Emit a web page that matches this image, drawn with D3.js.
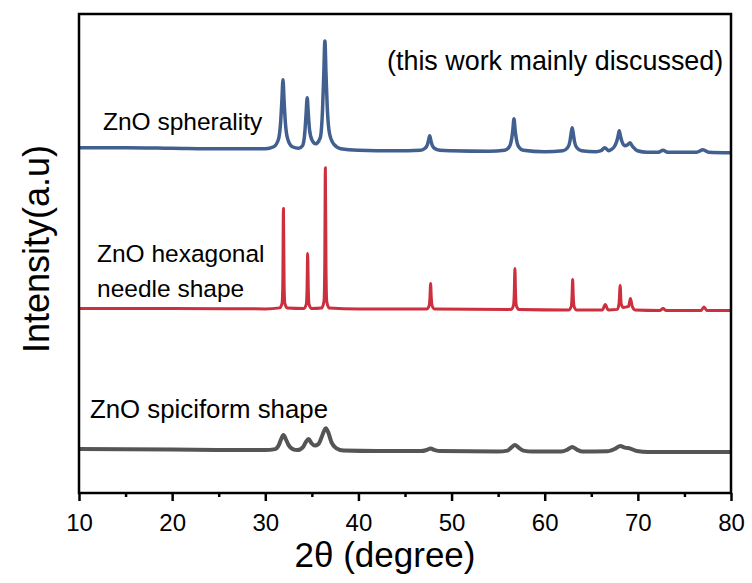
<!DOCTYPE html>
<html>
<head>
<meta charset="utf-8">
<script src="https://cdn.jsdelivr.net/npm/d3@7/dist/d3.min.js"></script>
<style>
  html, body { margin: 0; padding: 0; background: #fff; }
  svg text { font-family: "Liberation Sans", Arial, sans-serif; fill: #000; }
</style>
</head>
<body>
<svg id="chart" width="752" height="583"></svg>
<script>
// ---- data (2θ, intensity a.u. as plotted with offsets) ----
const xTicks = [10, 20, 30, 40, 50, 60, 70, 80];
const xMinorTicks = [15, 25, 35, 45, 55, 65, 75];

const spherality = [
  [10,346],[15,346],[20,345.5],[25,345],[28,345],[30,345],[30.9,347],[31.4,354],[31.65,372],[31.78,393],[31.9,414],
  [32.02,393],[32.15,372],[32.4,355],[32.9,347],[33.6,345.5],[34.0,348],[34.25,362],[34.38,380],[34.5,396],[34.62,380],
  [34.75,364],[35.0,354],[35.4,350],[35.9,356],[36.15,385],[36.28,420],[36.4,453],[36.52,420],[36.65,387],[36.9,360],
  [37.4,349],[38.1,345],[40,343.5],[44,343],[46.65,343.5],[47.15,345.5],[47.4,349],[47.53,353.5],[47.65,358],[47.77,353.5],
  [47.9,349],[48.15,345.5],[48.75,343.5],[50,343],[54,342.5],[55.7,343.5],[56.2,347],[56.45,355],[56.58,364],[56.7,375],
  [56.82,364],[56.95,355],[57.2,347],[57.7,343.5],[60,342],[61.95,343],[62.45,346],[62.7,352],[62.83,360],[62.95,366],
  [63.07,360],[63.2,352],[63.45,346],[63.95,343],[65.5,342],[66.05,343],[66.45,346],[66.85,343],[67.1,344],[67.5,347.5],
  [67.75,353],[67.88,358],[68.0,363],[68.12,358],[68.3,352],[68.6,348],[68.9,349],[69.15,351],[69.45,347],[69.95,343],
  [71,341.5],[72.2,341.5],[72.7,343.5],[73.2,341.5],[76.3,341.5],[77,344],[77.6,341.5],[80,341]
];

const needle = [
  [10,185],[20,185],[30,184.5],[31.55,185.5],[31.8,190],[31.88,210],[31.95,285],[32.02,210],[32.1,190],[32.35,185.5],
  [34.15,185],[34.4,189],[34.48,204],[34.55,240],[34.62,204],[34.7,189],[34.95,185],[36.05,185.5],[36.3,192],[36.38,225],
  [36.45,326],[36.52,225],[36.6,192],[36.85,185.5],[40,184.5],[47.35,184.5],[47.6,188],[47.68,196],[47.75,210],[47.82,196],
  [47.9,188],[48.15,184.5],[56.4,184],[56.65,188],[56.73,200],[56.8,225],[56.87,200],[56.95,188],[57.2,184],[62.6,183.5],
  [62.85,187],[62.93,196],[63.0,214],[63.07,196],[63.15,187],[63.4,183.5],[66.2,183.5],[66.5,189],[66.8,183.5],[67.8,184],
  [67.98,190],[68.1,208],[68.2,190],[68.4,186],[69.0,187],[69.2,195],[69.4,187],[69.7,183.5],[72.4,183],[72.7,185],
  [73.0,183],[76.8,183],[77.1,186.5],[77.4,183],[80,183]
];

const spiciform = [
  [10,44],[20,43.5],[30,43],[31.05,44],[31.45,48],[31.7,54],[31.95,58],[32.2,54],[32.5,48],[32.95,44],[33.45,43],
  [34.05,46],[34.35,51],[34.65,54],[34.95,50],[35.3,47.5],[35.7,49],[36.05,56],[36.3,62],[36.5,65],[36.75,61],[37.1,51],
  [37.6,45],[38.4,42.5],[42,42],[46.7,42],[47.35,43.2],[47.75,44.5],[48.15,43.2],[48.75,42],[55,41.5],[56.0,42.5],
  [56.4,45.5],[56.8,48],[57.2,45.5],[57.7,42.5],[58.7,41.5],[61.8,41.5],[62.45,43.5],[62.95,46],[63.45,43.5],[64.05,41.5],
  [66.7,41.8],[67.6,44.5],[68.1,47],[68.6,45.5],[69.2,44.5],[69.9,42],[71.1,41],[80,41]
];

const seriesNames = ["ZnO spherality", "ZnO hexagonal needle shape", "ZnO spiciform shape"];
const seriesColors = ["#41608f", "#cc2f3d", "#555555"];

// ---- layout ----
const svg = d3.select("#chart");
const L = 79, R = 731, T = 14, B = 493;
const x = d3.scaleLinear().domain([10, 80]).range([L, R]);
const y = d3.scaleLinear().domain([0, 480]).range([B, T]);

const line = d3.line().x(d => x(d[0])).y(d => y(d[1])).curve(d3.curveMonotoneX);

const data = [spherality, needle, spiciform];
const widths = [3.5, 3, 4];
data.forEach((s, i) => {
  svg.append("path").datum(s)
    .attr("fill", "none")
    .attr("stroke", seriesColors[i])
    .attr("stroke-width", widths[i])
    .attr("stroke-linejoin", "round")
    .attr("d", line);
});

// frame
svg.append("rect").attr("x", L).attr("y", T).attr("width", R - L).attr("height", B - T)
  .attr("fill", "none").attr("stroke", "#000").attr("stroke-width", 2.5);

// x axis
const xAxis = svg.append("g").attr("transform", `translate(0,${B})`)
  .call(d3.axisBottom(x).tickValues(xTicks).tickSize(8).tickPadding(13).tickFormat(d3.format("d")));
xAxis.select(".domain").remove();
xAxis.selectAll(".tick line").attr("stroke", "#000").attr("stroke-width", 2.5);
xAxis.selectAll(".tick text").style("font-size", "24px").attr("fill", "#000");

const xMinor = svg.append("g").attr("transform", `translate(0,${B})`)
  .call(d3.axisBottom(x).tickValues(xMinorTicks).tickSize(4).tickFormat(""));
xMinor.select(".domain").remove();
xMinor.selectAll(".tick line").attr("stroke", "#000").attr("stroke-width", 2.5);

// axis titles
svg.append("text").attr("x", 385).attr("y", 567).attr("text-anchor", "middle")
  .style("font-size", "35px").text("2θ (degree)");
svg.append("text").attr("transform", `translate(49,249) rotate(-90)`)
  .attr("text-anchor", "middle").style("font-size", "36px").text("Intensity(a.u)");

// annotations
svg.append("text").attr("x", 103).attr("y", 130).style("font-size", "24.5px").text(seriesNames[0]);
svg.append("text").attr("x", 97).attr("y", 262).style("font-size", "24.5px").text("ZnO hexagonal");
svg.append("text").attr("x", 97).attr("y", 297).style("font-size", "24.5px").text("needle shape");
svg.append("text").attr("x", 90).attr("y", 418).style("font-size", "25.8px").text(seriesNames[2]);
svg.append("text").attr("x", 387).attr("y", 70).style("font-size", "26.9px").text("(this work mainly discussed)");
</script>
</body>
</html>
